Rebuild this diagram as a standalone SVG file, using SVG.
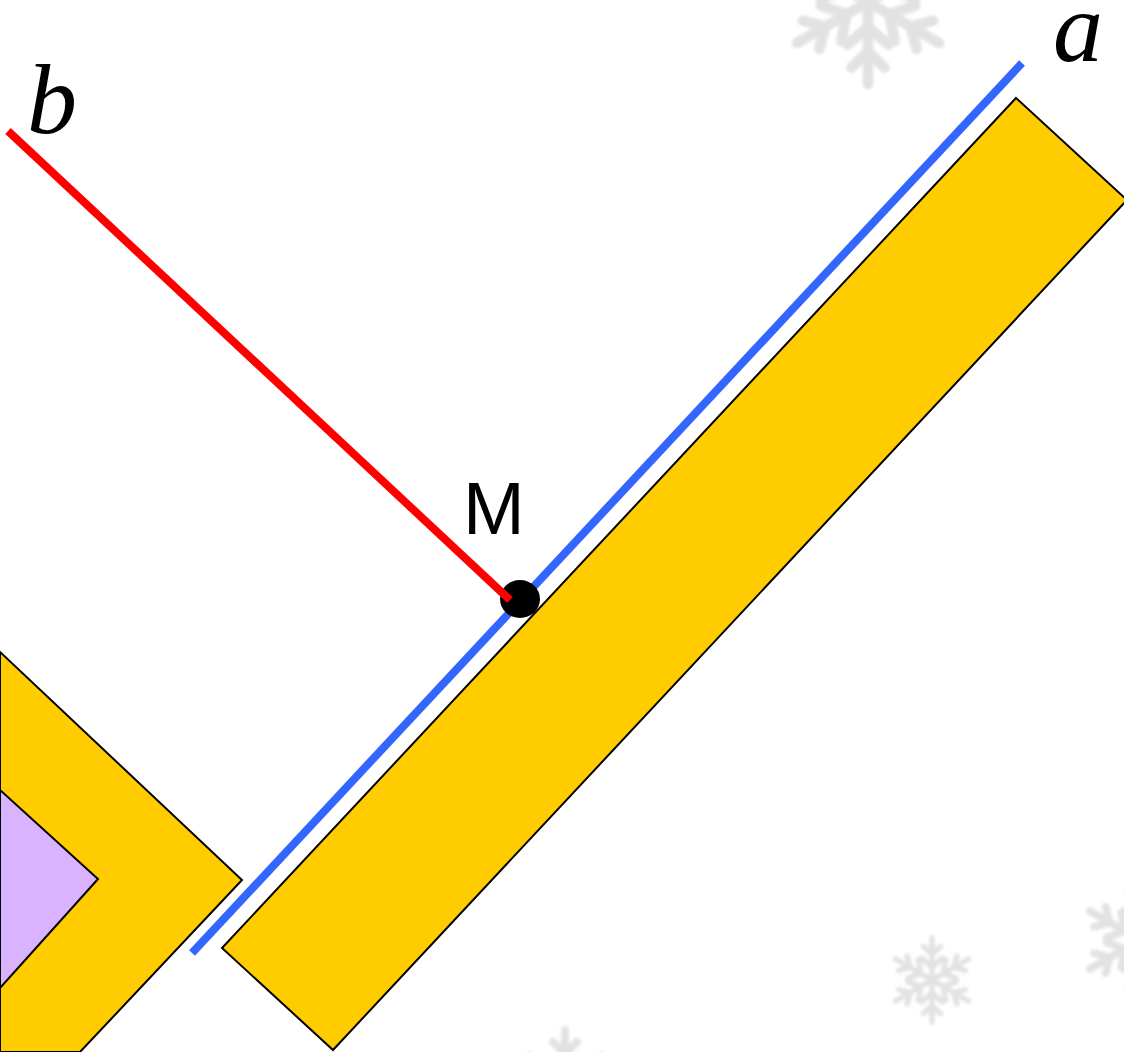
<svg xmlns="http://www.w3.org/2000/svg" width="1124" height="1052" viewBox="0 0 1124 1052">
<style>
.shape{stroke:#000;stroke-width:2;stroke-linejoin:miter}
.yellow{fill:#FFCC00}
.purple{fill:#D9B3FF}
.flake{stroke:#E2E2E2;stroke-width:0.13;fill:none;stroke-linecap:round}
.lbl{font-family:"Liberation Serif",serif;font-style:italic;font-size:100px;fill:#000}
.m{font-family:"Liberation Sans",Arial,sans-serif;font-size:74px;fill:#000}
</style>
<defs>
<filter id="soft" x="-20%" y="-20%" width="140%" height="140%"><feGaussianBlur stdDeviation="1.5"/></filter>
<g id="arm"><path d="M0,0 L0,-1 M0,-0.3 L-0.25,-0.52 M0,-0.3 L0.25,-0.52 M0,-0.6 L-0.2,-0.8 M0,-0.6 L0.2,-0.8"/></g>
<g id="flake" class="flake">
<use href="#arm"/><use href="#arm" transform="rotate(60)"/><use href="#arm" transform="rotate(120)"/>
<use href="#arm" transform="rotate(180)"/><use href="#arm" transform="rotate(240)"/><use href="#arm" transform="rotate(300)"/>
</g>
</defs>
<rect width="1124" height="1052" fill="#fff"/>
<g id="snowflakes" filter="url(#soft)">
<use href="#flake" transform="translate(868,2) scale(82)"/>
<use href="#flake" transform="translate(932,980) scale(42)"/>
<use href="#flake" transform="translate(1140,940) scale(58)"/>
<use href="#flake" transform="translate(565,1090) scale(60)"/>
</g>
<g id="left-chevron">
<polygon class="shape yellow" points="0,652 242,880 80,1052 0,1052"/>
<polygon class="shape purple" points="0,790 98,879 0,988"/>
</g>
<g id="plank">
<polygon class="shape yellow" points="1016,98 1127,200 333,1050 222,948"/>
</g>
<g id="connectors">
<line id="line-a" x1="1022" y1="63" x2="192" y2="953" stroke="#3366FF" stroke-width="8"/>
</g>
<g id="point-M">
<ellipse cx="520" cy="599" rx="20" ry="19" fill="#000"/>
<text class="m" x="463" y="534">M</text>
</g>
<g id="connector-b">
<line id="line-b" x1="8" y1="131" x2="510" y2="600" stroke="#FF0000" stroke-width="8"/>
</g>
<g id="labels">
<text class="lbl" x="1053" y="61">a</text>
<text class="lbl" x="27" y="133">b</text>
</g>
</svg>
